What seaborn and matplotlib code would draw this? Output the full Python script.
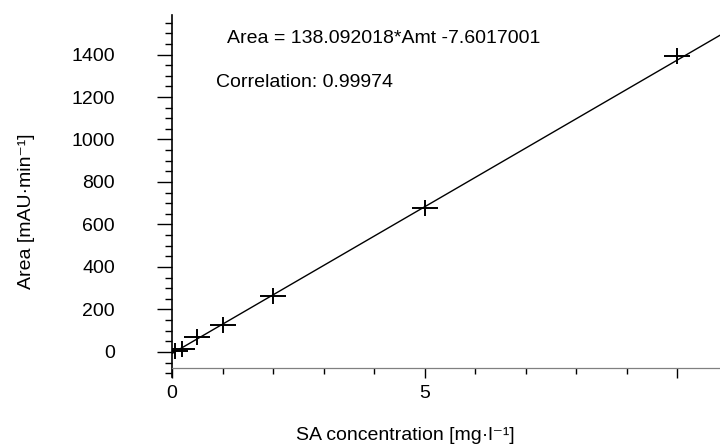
import matplotlib
matplotlib.use("Agg")
import matplotlib.pyplot as plt
import seaborn as sns
import pandas as pd
import numpy as np
from matplotlib.path import Path
from matplotlib.ticker import MultipleLocator, FixedLocator

# calibration points
conc = [0.05, 0.2, 0.5, 1.0, 2.0, 5.0, 10.0]
area = [3, 16, 72, 127, 264, 676, 1393]

# fit reported on the chart
slope = 138.092018
intercept = -7.6017001
correlation = 0.99974

x_max = 10.85
y_min, y_max = -118, 1586
x_axis_at = -75

sns.set_style("ticks")
plt.rcParams['font.family'] = ['Liberation Sans', 'DejaVu Sans']
plt.rcParams['font.size'] = 14
plt.rcParams['text.color'] = 'black'
plt.rcParams['axes.labelcolor'] = 'black'
plt.rcParams['xtick.color'] = 'black'
plt.rcParams['ytick.color'] = 'black'

df = pd.DataFrame({'conc': conc, 'area': area})
fit_x = np.array([0.0, x_max])
df_fit = pd.DataFrame({'conc': fit_x, 'area': slope * fit_x + intercept})

fig = plt.figure(figsize=(7.2, 4.48), dpi=100)
ax = fig.add_axes([172 / 720, 1 - 377 / 448, 1 - 172 / 720, (377 - 15) / 448])

sns.lineplot(data=df_fit, x='conc', y='area', color='black', linewidth=1.0, ax=ax)

# wide, flat cross marker like the original
cross = Path([(-1, 0), (1, 0), (0, -0.62), (0, 0.62)],
             [Path.MOVETO, Path.LINETO, Path.MOVETO, Path.LINETO])
sns.scatterplot(data=df, x='conc', y='area', marker=cross, s=19 ** 2,
                color='black', edgecolor='black', linewidth=1.4, ax=ax, zorder=3)

ax.set_xlim(0, x_max)
ax.set_ylim(y_min, y_max)

for s in ['top', 'right']:
    ax.spines[s].set_visible(False)
ax.spines['left'].set_linewidth(1.2)
ax.spines['left'].set_color('black')
ax.spines['bottom'].set_position(('data', x_axis_at))
ax.spines['bottom'].set_color('0.5')
ax.spines['bottom'].set_linewidth(0.9)
ax.spines['bottom'].set_linestyle((0, (2, 1)))

ax.yaxis.set_major_locator(FixedLocator([0, 200, 400, 600, 800, 1000, 1200, 1400]))
ax.yaxis.set_minor_locator(MultipleLocator(50))
ax.xaxis.set_major_locator(FixedLocator([0, 5, 10]))
ax.xaxis.set_minor_locator(MultipleLocator(1))
ax.set_xticklabels(['0', '5', ''])

ax.tick_params(axis='y', which='major', direction='out', length=11, width=1, pad=30)
ax.tick_params(axis='y', which='minor', direction='out', length=5, width=1)
ax.tick_params(axis='x', which='major', direction='out', length=7.5, width=1, pad=5)
ax.tick_params(axis='x', which='minor', direction='out', length=4, width=1)

ax.set_xlabel('SA concentration [mg·l⁻¹]', fontsize=14, va='center')
ax.set_ylabel('Area [mAU·min⁻¹]', fontsize=14, va='center')
ax.xaxis.set_label_coords((405 - 172) / 548, (377 - 436) / 362)
ax.yaxis.set_label_coords((27 - 172) / 548, (377 - 211) / 362)

ax.text(227, 448 - 38, f'Area = {slope:.6f}*Amt {intercept:.7f}',
        transform=None, fontsize=14, va='center', ha='left')
ax.text(216, 448 - 82, f'Correlation: {correlation:.5f}',
        transform=None, fontsize=14, va='center', ha='left')

fig.savefig('out.png', dpi=100)
plt.close(fig)
